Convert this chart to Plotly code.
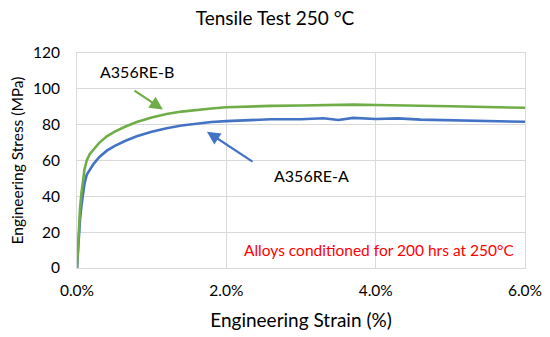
import plotly.graph_objects as go

# strain (fraction) and stress (MPa)
strain = [0, 0.0001, 0.0002, 0.0004, 0.0006, 0.0008, 0.001, 0.0013, 0.0017, 0.0022,
          0.003, 0.004, 0.005, 0.0065, 0.008, 0.010, 0.012, 0.014, 0.016, 0.018,
          0.020, 0.023, 0.026, 0.030, 0.033, 0.035, 0.037, 0.040, 0.043, 0.046,
          0.050, 0.055, 0.060]
stress_a = [0, 8, 16, 27, 35, 42, 47, 52, 55, 58,
            62, 65.5, 68, 71, 73.5, 76, 78, 79.5, 80.5, 81.5,
            82, 82.5, 83, 83, 83.6, 82.6, 83.8, 83.2, 83.5, 82.8,
            82.5, 82, 81.6]
stress_b = [0, 10, 20, 33, 42, 50, 55, 60, 63.5, 66,
            70, 73.5, 76, 79, 81.5, 84, 86, 87.3, 88.3, 89,
            89.7, 90.2, 90.5, 90.7, 91, 91, 91.2, 91, 91, 90.6,
            90.3, 89.8, 89.4]

x_ticks = [0, 0.02, 0.04, 0.06]
y_ticks = [0, 20, 40, 60, 80, 100, 120]

BLUE = "#4472c4"
GREEN = "#70ad47"
GRID = "#d9d9d9"
FONT = "Lato"

fig = go.Figure()
fig.add_trace(go.Scatter(x=strain, y=stress_a, mode="lines", name="A356RE-A",
                         line=dict(color=BLUE, width=2.6)))
fig.add_trace(go.Scatter(x=strain, y=stress_b, mode="lines", name="A356RE-B",
                         line=dict(color=GREEN, width=2.6)))

fig.add_annotation(x=0.0115, y=88.4, ax=0.0075, ay=99.6, xref="x", yref="y",
                   axref="x", ayref="y", text="", showarrow=True,
                   arrowhead=2, arrowsize=1.2, arrowwidth=2.2, arrowcolor=GREEN)
fig.add_annotation(x=0.0174, y=76.1, ax=0.0237, ay=58.8, xref="x", yref="y",
                   axref="x", ayref="y", text="", showarrow=True,
                   arrowhead=2, arrowsize=1.2, arrowwidth=2.2, arrowcolor=BLUE)
fig.add_annotation(x=0.0081, y=109.6, text="A356RE-B", showarrow=False,
                   font=dict(family=FONT, size=16, color="#000000"))
fig.add_annotation(x=0.0314, y=51.6, text="A356RE-A", showarrow=False,
                   font=dict(family=FONT, size=16, color="#000000"))
fig.add_annotation(x=0.0405, y=9.8, text="Alloys conditioned for 200 hrs at 250°C",
                   showarrow=False, font=dict(family=FONT, size=15.5, color="#ff0000"))
# y-axis title placed as rotated text
fig.add_annotation(x=-0.134, y=0.5, xref="paper", yref="paper",
                   text="Engineering Stress (MPa)", textangle=-90,
                   showarrow=False, xanchor="center", yanchor="middle",
                   font=dict(family=FONT, size=15.5, color="#000000"))

fig.update_layout(
    width=550, height=337,
    margin=dict(l=77, r=25, t=53, b=69),
    paper_bgcolor="white", plot_bgcolor="white",
    showlegend=False,
    font=dict(family=FONT, size=15.5, color="#000000"),
    title=dict(text="Tensile Test 250 °C", x=0.5, xanchor="center",
               y=0.947, yanchor="middle", font=dict(family=FONT, size=19)),
    xaxis=dict(range=[0, 0.06], tickvals=x_ticks, tickformat=".1%",
               showgrid=True, gridcolor=GRID, gridwidth=1,
               showline=True, linecolor=GRID, linewidth=1, mirror=True,
               zeroline=False, ticks="", ticklabelstandoff=8, automargin=False,
               title=dict(text="Engineering Strain (%)", standoff=16)),
    yaxis=dict(range=[0, 120], tickvals=y_ticks,
               showgrid=True, gridcolor=GRID, gridwidth=1,
               showline=True, linecolor=GRID, linewidth=1, mirror=True,
               zeroline=False, ticks="", ticklabelstandoff=13, automargin=False),
)

fig.write_html("out.html", config={"displayModeBar": False},
               post_script="document.body.style.margin='0';")
